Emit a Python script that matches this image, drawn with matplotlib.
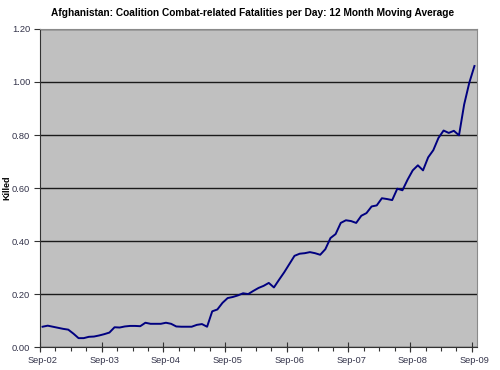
import matplotlib
matplotlib.use('Agg')
import matplotlib.pyplot as plt
import numpy as np

plt.rcParams['font.family'] = ['Liberation Sans', 'DejaVu Sans']

# 12 month moving average, monthly from Sep-02 to Sep-09
killed = [
    0.078, 0.082, 0.078, 0.074, 0.070, 0.067, 0.052, 0.035, 0.035, 0.040,
    0.041, 0.045, 0.050, 0.056, 0.076, 0.075, 0.079, 0.081, 0.081, 0.080,
    0.093, 0.089, 0.089, 0.089, 0.093, 0.089, 0.079, 0.078, 0.078, 0.078,
    0.085, 0.088, 0.078, 0.136, 0.143, 0.168, 0.186, 0.190, 0.196, 0.204,
    0.201, 0.213, 0.224, 0.232, 0.243, 0.226, 0.255, 0.283, 0.314, 0.345,
    0.353, 0.355, 0.359, 0.355, 0.349, 0.370, 0.412, 0.427, 0.469, 0.479,
    0.476, 0.469, 0.496, 0.506, 0.531, 0.535, 0.562, 0.559, 0.555, 0.598,
    0.592, 0.632, 0.667, 0.686, 0.667, 0.716, 0.743, 0.789, 0.817, 0.808,
    0.816, 0.799, 0.915, 0.997, 1.060,
]
tick_labels = ['Sep-02', 'Sep-03', 'Sep-04', 'Sep-05', 'Sep-06', 'Sep-07', 'Sep-08', 'Sep-09']
y_ticks = [0.0, 0.2, 0.4, 0.6, 0.8, 1.0, 1.2]

label_color = '#33334a'

fig = plt.figure(figsize=(5, 3.7), dpi=100)
fig.patch.set_facecolor('white')
ax = fig.add_axes([0.08, 0.061, 0.874, 0.861])
ax.set_facecolor('#c0c0c0')

x = np.arange(len(killed))
ax.plot(x, killed, color='#000080', lw=1.4, zorder=3)

ax.set_xlim(-0.5, len(killed) - 0.5)
ax.set_ylim(0, 1.2)

# y axis
ax.set_yticks(y_ticks)
ax.set_yticklabels([f'{v:.2f}' for v in y_ticks])
ax.yaxis.grid(True, color='#1a1a1a', lw=1)
ax.set_axisbelow(True)
ax.tick_params(axis='y', direction='out', length=4, width=0.8, color='#333333',
               labelsize=6.7, labelcolor=label_color, pad=3)
ax.set_ylabel('Killed', fontsize=6.5, fontweight='bold')
ax.yaxis.set_label_coords(-0.066, 0.5)

# x axis: labels centred on categories, tick marks on boundaries
ax.set_xticks(np.arange(0, len(killed), 12))
ax.set_xticklabels(tick_labels)
ax.tick_params(axis='x', which='major', length=0, labelsize=6.7,
               labelcolor=label_color, pad=6)
ax.set_xticks(np.arange(-0.5, len(killed) - 1, 3), minor=True)
ax.tick_params(axis='x', which='minor', direction='out', length=3, width=0.8,
               color='#333333')

year_ax = ax.secondary_xaxis('bottom')
year_ax.set_xticks(np.arange(-0.5, len(killed) - 1, 12))
year_ax.set_xticklabels([])
year_ax.tick_params(direction='inout', length=7, width=0.8, color='#333333')
year_ax.spines['bottom'].set_visible(False)

for side in ['top', 'right']:
    ax.spines[side].set_color('#8a8a8a')
    ax.spines[side].set_linewidth(0.8)
for side in ['left', 'bottom']:
    ax.spines[side].set_color('#333333')
    ax.spines[side].set_linewidth(0.8)

fig.text(0.505, 0.965, 'Afghanistan: Coalition Combat-related Fatalities per Day: 12 Month Moving Average',
         ha='center', va='center', fontsize=7.3, fontweight='bold')

fig.savefig('out.png', dpi=100, facecolor='white')
